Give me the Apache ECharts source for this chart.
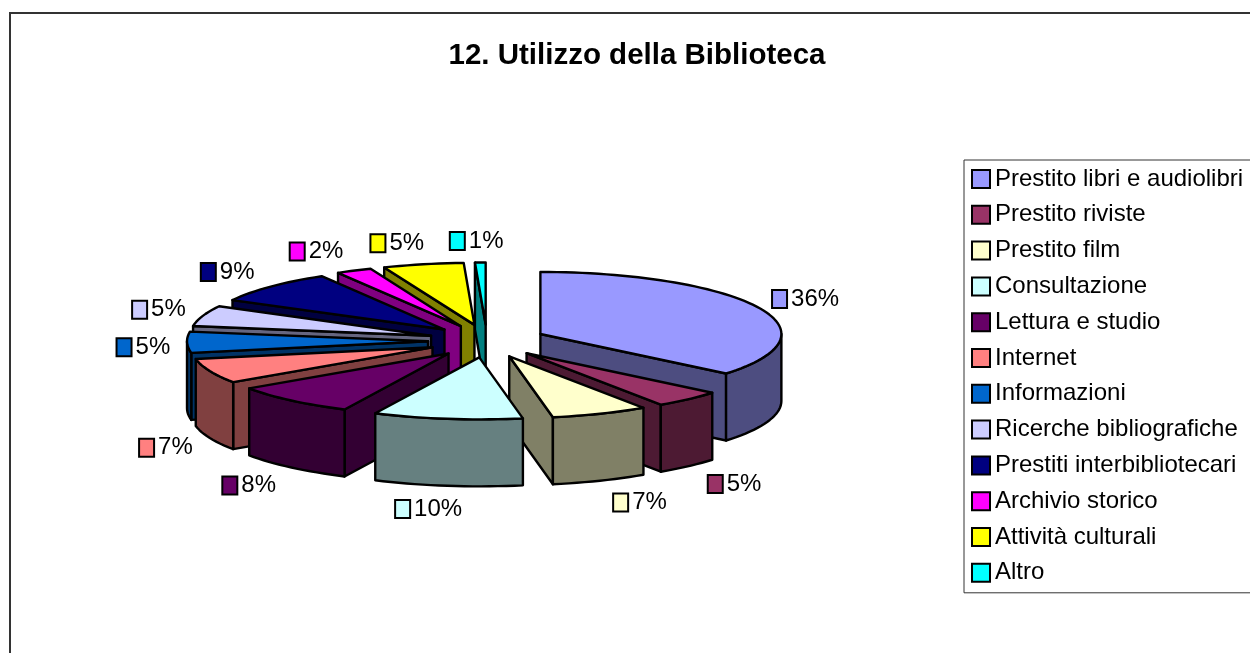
<!DOCTYPE html>
<html>
<head>
<meta charset="utf-8">
<title>12. Utilizzo della Biblioteca</title>
<script src="https://cdn.jsdelivr.net/npm/echarts@6/dist/echarts.min.js"></script>
<style>
  html, body { margin: 0; padding: 0; background: #fff; overflow: hidden; }
  #chart { width: 1250px; height: 653px; }
</style>
</head>
<body>
<div id="chart"></div>
<script>
var titolo = '12. Utilizzo della Biblioteca';
var categorie = ['Prestito libri e audiolibri', 'Prestito riviste', 'Prestito film', 'Consultazione',
    'Lettura e studio', 'Internet', 'Informazioni', 'Ricerche bibliografiche',
    'Prestiti interbibliotecari', 'Archivio storico', 'Attività culturali', 'Altro'];
// percentuali stimate dagli angoli delle fette, le etichette sono questi valori arrotondati
var valori = [36, 4.6, 6.5, 10, 8.4, 6.5, 5.49, 5.4, 8.6, 2.4, 5.4, 0.71];
var colori = ['#9999FF', '#993366', '#FFFFCC', '#CCFFFF', '#660066', '#FF8080',
    '#0066CC', '#CCCCFF', '#000080', '#FF00FF', '#FFFF00', '#00FFFF'];
var coloriLato = ['#4D4D80', '#4D1A33', '#808066', '#668080', '#330033', '#804040',
    '#003366', '#666680', '#000040', '#800080', '#808000', '#008080'];

// geometria della torta
var cx = 487, cy = 341;
var rx = 241, ry = 62, spessore = 67;
var esplosoX = 59, esplosoY = 16.5;
var fontName = '"Liberation Sans", Arial, sans-serif';

var totale = valori.reduce(function (a, b) { return a + b; }, 0);
var inizi = [];
var somma = 0;
valori.forEach(function (v) {
    inizi.push(somma / totale * 360);
    somma += v;
});

function fine(i) {
    return inizi[i] + valori[i] / totale * 360;
}
function medio(i) {
    return (inizi[i] + fine(i)) / 2 * Math.PI / 180;
}
function sulBordo(ax, ay, gradi) {
    var a = gradi * Math.PI / 180;
    return [ax + rx * Math.sin(a), ay - ry * Math.cos(a)];
}
function arco(ax, ay, da, a) {
    var punti = [];
    var n = Math.max(2, Math.ceil((a - da) / 2));
    for (var k = 0; k <= n; k++) {
        punti.push(sulBordo(ax, ay, da + (a - da) * k / n));
    }
    return punti;
}
function giu(p) {
    return [p[0], p[1] + spessore];
}
function faccia(punti, colore) {
    return {
        type: 'polygon',
        shape: { points: punti },
        style: { fill: colore, stroke: '#000', lineWidth: 2.4, lineJoin: 'round' }
    };
}

function disegnaFetta(params, api) {
    var i = params.seriesIndex;
    var t1 = inizi[i], t2 = fine(i), m = medio(i);
    var ax = cx + esplosoX * Math.sin(m);
    var ay = cy - esplosoY * Math.cos(m);
    var apice = [ax, ay];
    var p1 = sulBordo(ax, ay, t1), p2 = sulBordo(ax, ay, t2);
    var figli = [];

    // pareti radiali verso chi guarda
    if (t1 > 180) {
        figli.push(faccia([apice, p1, giu(p1), giu(apice)], coloriLato[i]));
    }
    if (t2 < 180) {
        figli.push(faccia([apice, p2, giu(p2), giu(apice)], coloriLato[i]));
    }
    // parete curva, solo la parte davanti
    var da = Math.max(t1, 90), a = Math.min(t2, 270);
    if (a > da) {
        var sopra = arco(ax, ay, da, a);
        figli.push(faccia(sopra.concat(sopra.map(giu).reverse()), coloriLato[i]));
    }
    figli.push(faccia([apice].concat(arco(ax, ay, t1, t2)), colori[i]));

    // etichetta con chiave
    var s = Math.sin(m), c = Math.cos(m);
    var lx = 490 + (s < 0 ? -347 : 343) * Math.pow(Math.abs(s), 0.85);
    var ly = 342 - 101 * c + (c < 0 ? spessore * Math.min(1, -c / 0.3) : 0);
    var testo = Math.round(valori[i]) + '%';
    var largTesto = 21 + 13 * (testo.length - 1);
    var sx = lx - (15 + 4 + largTesto) / 2;
    figli.push({
        type: 'rect',
        shape: { x: sx, y: ly - 9, width: 15, height: 18 },
        style: { fill: colori[i], stroke: '#000', lineWidth: 2 }
    });
    figli.push({
        type: 'text',
        x: sx + 19,
        y: ly,
        style: { text: testo, font: '24px ' + fontName, fill: '#000', textAlign: 'left', textVerticalAlign: 'middle' }
    });
    return { type: 'group', children: figli };
}

var serie = categorie.map(function (nome, i) {
    return {
        name: nome,
        type: 'custom',
        coordinateSystem: 'none',
        renderItem: disegnaFetta,
        data: [valori[i]],
        // le fette dietro vanno disegnate prima
        z: 2 + (1 - Math.cos(medio(i))) * 5,
        itemStyle: { color: colori[i] },
        silent: true,
        animation: false
    };
});

var myChart = echarts.init(document.getElementById('chart'), null, { renderer: 'canvas' });
var option = {
    animation: false,
    backgroundColor: '#fff',
    title: {
        text: titolo,
        left: 632,
        top: 36,
        textAlign: 'center',
        textStyle: { fontFamily: fontName, fontWeight: 'bold', fontSize: 29.5, color: '#000' }
    },
    graphic: [{
        type: 'rect',
        silent: true,
        z: 0,
        shape: { x: 10, y: 13, width: 1400, height: 800 },
        style: { fill: null, stroke: '#333', lineWidth: 2 }
    }],
    legend: {
        data: categorie,
        orient: 'vertical',
        left: 964,
        top: 160,
        padding: [7, 30, 8, 7],
        itemWidth: 18,
        itemHeight: 18,
        itemGap: 11.8,
        icon: 'rect',
        selectedMode: false,
        backgroundColor: '#fff',
        borderColor: '#333',
        borderWidth: 1,
        itemStyle: { borderColor: '#000', borderWidth: 2 },
        textStyle: { fontFamily: fontName, fontSize: 24, color: '#000' }
    },
    series: serie
};
myChart.setOption(option, true);
</script>
</body>
</html>
